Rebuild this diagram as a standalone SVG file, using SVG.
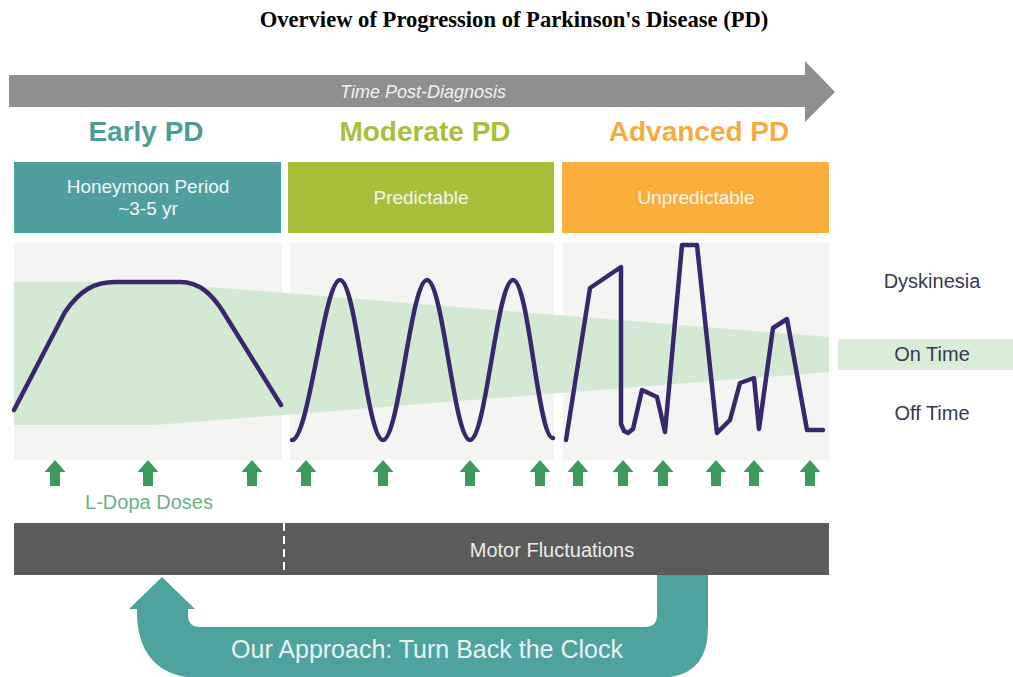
<svg xmlns="http://www.w3.org/2000/svg" width="1013" height="677" viewBox="0 0 1013 677">
<defs>
<style>
.t{font-family:"Liberation Sans",Arial,sans-serif;text-anchor:middle}
.phase{font-size:28px;font-weight:bold}
.box{font-size:19px;fill:#f3f6f3}
.leg{font-size:20px;fill:#3a3850}
.curve{fill:none;stroke:#38286b;stroke-width:4.5;stroke-linejoin:round;stroke-linecap:round}
.panel{fill:#f4f4f2}
</style>
<path id="dose" d="M0,0 L10.5,12 L5,12 L5,26 L-5,26 L-5,12 L-10.5,12 Z" fill="#3c9a5c"/>
</defs>
<rect width="1013" height="677" fill="#ffffff"/>
<text x="514" y="27" font-family="'Liberation Serif','Times New Roman',serif" font-size="22.6" font-weight="bold" text-anchor="middle" fill="#000">Overview of Progression of Parkinson's Disease (PD)</text>

<g id="time-arrow">
<path d="M9,75 L805,75 L805,61 L835,92 L805,122 L805,107 L9,107 Z" fill="#8f8f8f"/>
<text class="t" x="423" y="98" font-size="18" font-style="italic" fill="#f2f2f2">Time Post-Diagnosis</text>
</g>

<g id="early">
<text class="t phase" x="146" y="141" fill="#4c9c9a">Early PD</text>
<rect x="14" y="162" width="267" height="71" fill="#4e9e9e"/>
<text class="t box" x="148" y="193">Honeymoon Period</text>
<text class="t box" x="148" y="215">~3-5 yr</text>
</g>
<g id="moderate">
<text class="t phase" x="425" y="141" fill="#a8bf3a">Moderate PD</text>
<rect x="288" y="162" width="266" height="71" fill="#a9bf3b"/>
<text class="t box" x="421" y="204">Predictable</text>
</g>
<g id="advanced">
<text class="t phase" x="699" y="141" fill="#f6ab42">Advanced PD</text>
<rect x="562" y="162" width="267" height="71" fill="#fbae3c"/>
<text class="t box" x="696" y="204">Unpredictable</text>
</g>

<g id="chart">
<rect class="panel" x="14" y="243" width="268" height="217"/>
<rect class="panel" x="290" y="243" width="264" height="217"/>
<rect class="panel" x="563" y="243" width="266" height="217"/>
<polygon points="14,282 148,282 829,337 829,372 155,425 14,425" fill="#d4e9d3"/>
<path class="curve" d="M14,410 L65,312 C80,290 95,282 115,282 L180,282 C200,282 212,295 222,310 L281,405"/>
<path class="curve" d="M292,440 C309,440 324,280 340,280 C356,280 367,440 383,440 C399,440 411,280 427,280 C443,280 454,440 470,440 C486,440 497,280 513,280 C529,280 538,440 553,438"/>
<polyline class="curve" points="566,440 590,288 621,267 621,424 624,431 628,433 633,429 642,390 657,397 665,432 682,245 697,245 717,433 730,420 740,383 754,378 759,429 773,328 787,319 807,430 823,430"/>
</g>

<g id="legend">
<text class="t leg" x="932" y="288">Dyskinesia</text>
<rect x="838" y="339" width="175" height="31" fill="#d9edd8"/>
<text class="t leg" x="932" y="361">On Time</text>
<text class="t leg" x="932" y="420">Off Time</text>
</g>

<g id="ldopa">
<use href="#dose" x="55" y="460"/>
<use href="#dose" x="148" y="460"/>
<use href="#dose" x="252" y="460"/>
<use href="#dose" x="306" y="460"/>
<use href="#dose" x="383" y="460"/>
<use href="#dose" x="470" y="460"/>
<use href="#dose" x="540" y="460"/>
<use href="#dose" x="578" y="460"/>
<use href="#dose" x="623" y="460"/>
<use href="#dose" x="663" y="460"/>
<use href="#dose" x="716" y="460"/>
<use href="#dose" x="754" y="460"/>
<use href="#dose" x="810" y="460"/>
<text class="t" x="149" y="509" font-size="20" fill="#6db283">L-Dopa Doses</text>
</g>

<g id="motor">
<rect x="14" y="523" width="815" height="52" fill="#5b5b5b"/>
<line x1="284" y1="523" x2="284" y2="575" stroke="#ffffff" stroke-width="2" stroke-dasharray="8,5"/>
<text class="t" x="552" y="557" font-size="20" fill="#ececec">Motor Fluctuations</text>
</g>

<g id="connectors">
<path d="M708,575 L708,628 Q708,678 658,678 L200,678 C160,678 137,655 137,612 L137,609 L129,609 L162,577 L195,609 L188,609 L188,615 Q188,627 200,627 L645,627 Q657,627 657,615 L657,575 Z" fill="#4fa39f"/>
<text class="t" x="427" y="658" font-size="25" fill="#e8f3f1">Our Approach: Turn Back the Clock</text>
</g>
</svg>
